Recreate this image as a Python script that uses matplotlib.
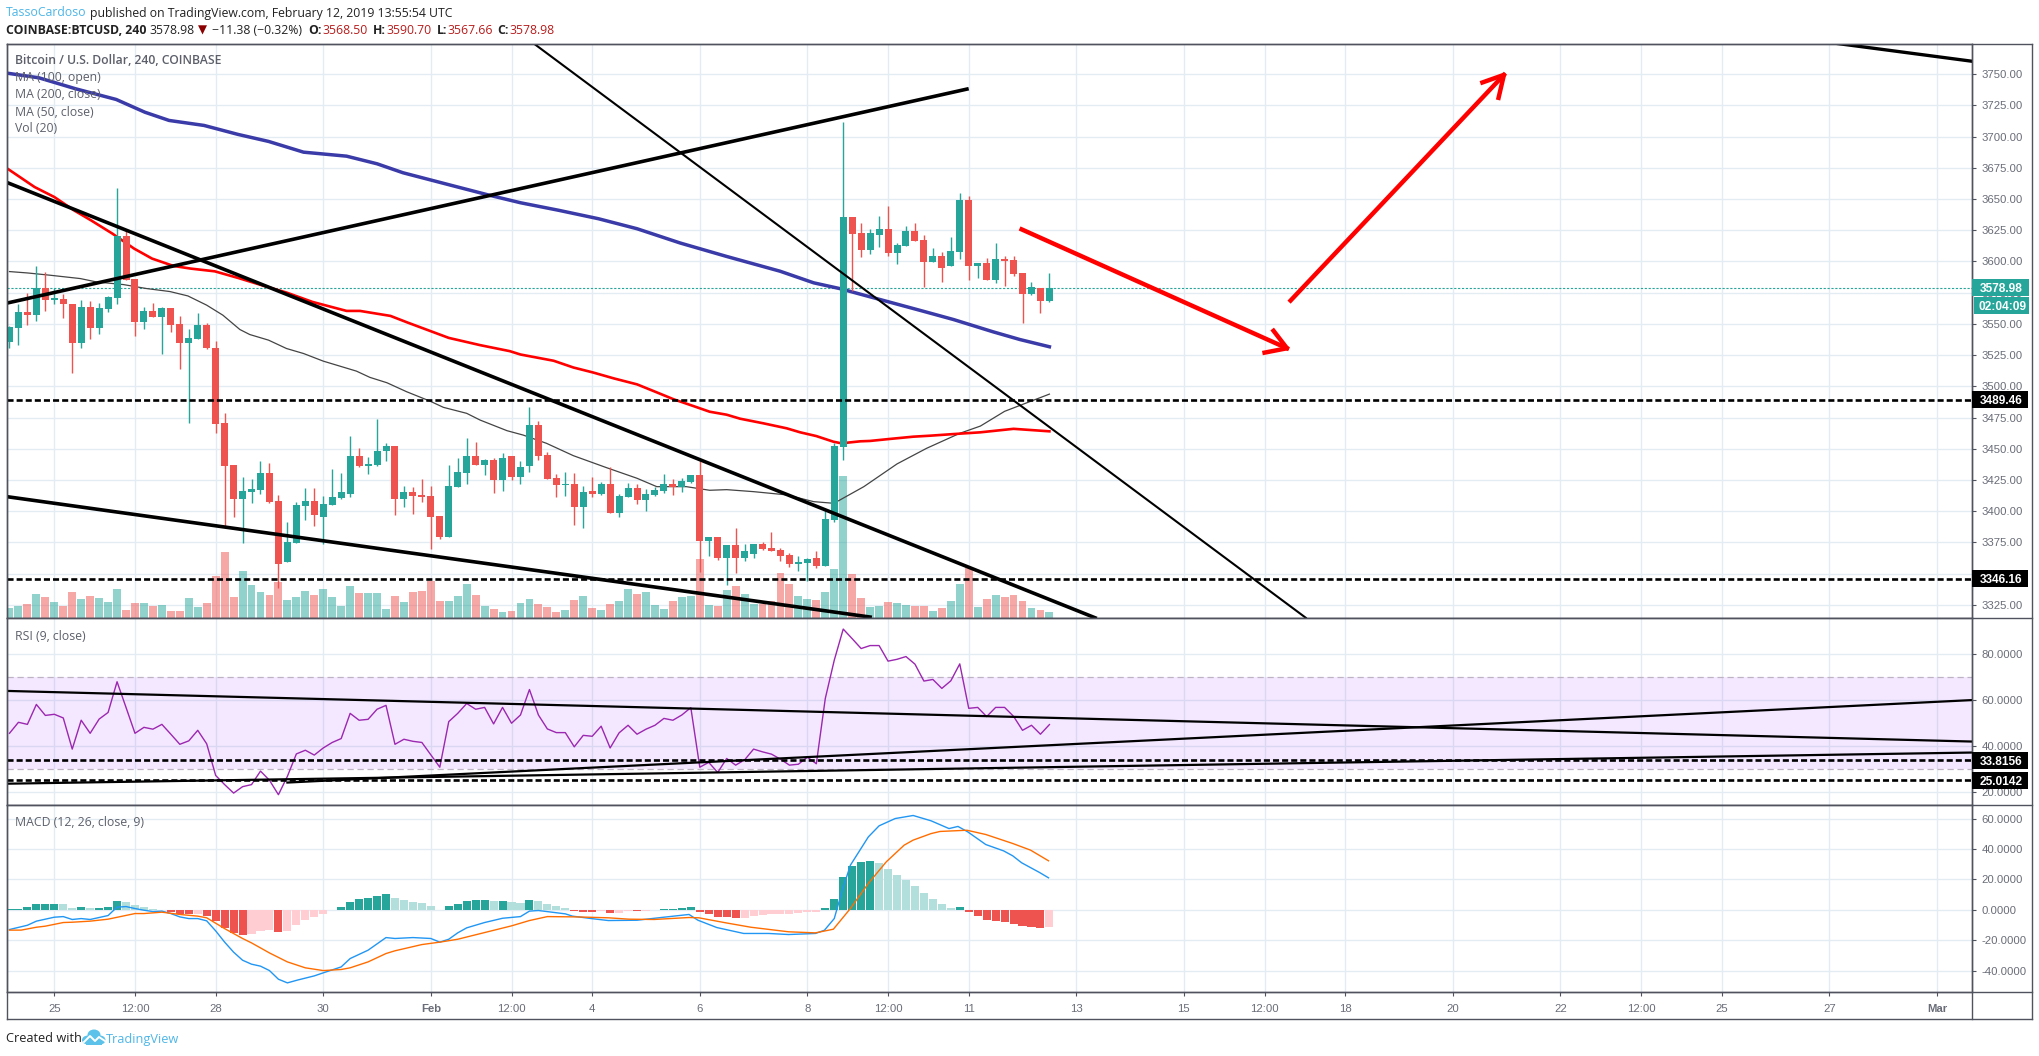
import numpy as np
import matplotlib
matplotlib.use('Agg')
from matplotlib import pyplot as plt
from matplotlib.lines import Line2D
from matplotlib.patches import Rectangle, Ellipse
from matplotlib.transforms import IdentityTransform

# 4h bars, 0 = Jan 25 00:00
bar_idx = np.arange(-5, 112)

opens = [3535.4,3546.6,3559.4,3557,3578.8,3569,3569.8,3565.8,3534.6,3563.4,
    3546.6,3561.8,3570.6,3620.1,3585.7,3551.4,3560.2,3555.4,3562.6,3549.8,
    3534.6,3537.8,3549,3531,3470.6,3437,3409.9,3415.5,3417,3430.7,
    3408.3,3359.5,3374.7,3404.3,3408.3,3395.5,3405.1,3410.7,3413.9,3444.3,
    3436.3,3437,3448.3,3452.3,3409.9,3415.5,3413.1,3412.3,3396.3,3379.5,
    3419.5,3430.7,3444.3,3437,3441.1,3425.1,3444.3,3427.5,3436.3,3469,
    3445.1,3426.7,3421.1,3421.9,3403.5,3416.3,3413.9,3421.9,3398.7,3411.5,
    3418.7,3409.1,3413.1,3416.3,3421.9,3419.5,3423.5,3429.1,3376.3,3379.5,
    3362.7,3373.1,3362.7,3365.9,3373.9,3370.7,3369.1,3365.1,3357.9,3358.7,
    3362.7,3356.3,3393.1,3451.7,3635.4,3622.6,3609,3621,3625.8,3606.6,
    3612.2,3624.2,3617,3599.4,3604.2,3596.2,3607.4,3648.9,3596.2,3598.6,
    3585,3601.8,3601,3590.6,3573.8,3578.6,3568.5]
highs = [3548,3566.3,3574.8,3596.2,3591.3,3579.1,3573.8,3566,3569,3568.2,
    3566.6,3572.2,3658.5,3624.1,3586,3563.4,3566.6,3563.4,3563,3556.2,
    3545.8,3558.6,3550.6,3536,3478.6,3437,3427.5,3425.9,3440.3,3438.7,
    3413.1,3391.5,3407.5,3418.7,3418.7,3412.3,3433.9,3430.7,3460.2,3450.7,
    3443.5,3473.8,3454.7,3452.3,3420.3,3419.5,3425.9,3420.3,3396.3,3437,
    3442.7,3458.6,3455.5,3441.9,3442.7,3446.7,3444.3,3440.3,3483.4,3472.2,
    3447.5,3429.9,3431.5,3430.7,3420.3,3427.5,3423.5,3435.5,3413.9,3422.7,
    3421.9,3417.9,3419.5,3429.9,3425.9,3426.7,3429.1,3440.3,3379.5,3379.5,
    3373.1,3386.7,3373.9,3373.9,3375.5,3383.5,3370.7,3366.7,3364.3,3362.7,
    3368.3,3400.3,3454.7,3711.3,3635.4,3630.6,3625.8,3636.1,3644.2,3614.6,
    3628.2,3630.6,3621,3610.6,3607.4,3619.4,3654.5,3652.1,3598.6,3602.6,
    3614.6,3604.2,3604.2,3590.6,3583.4,3578.6,3590.7]
lows = [3530.6,3533,3549,3552.2,3560.2,3565.8,3554.6,3510.8,3530.6,3537.8,
    3541.8,3559.4,3565.8,3584.9,3540.2,3545.8,3555.4,3525.8,3543.4,3513.8,
    3470.8,3537.8,3530,3463,3388.3,3395.5,3374.7,3406.7,3413.9,3406.7,
    3338.7,3359.5,3374.7,3393.1,3388.3,3373.9,3405.1,3409.9,3411.5,3435.5,
    3429.9,3436.3,3440.3,3397.1,3403.5,3397.9,3407.5,3369.9,3377.9,3379.5,
    3419.5,3421.9,3437,3429.1,3414.7,3416.3,3425.1,3421.9,3431.5,3441.1,
    3425.9,3411.5,3412.3,3389.1,3386.7,3411.5,3413.1,3398.7,3395.5,3411.5,
    3405.9,3400.3,3412.3,3414.7,3413.1,3415.5,3422.7,3351.5,3364.3,3361.1,
    3341.1,3350.7,3360.3,3362.7,3369.1,3368.3,3360.3,3355.5,3352.3,3344.3,
    3354.7,3356.3,3391.5,3441.1,3576.2,3603.4,3605.8,3611.4,3604.2,3597.8,
    3612.2,3616.2,3579.4,3599.4,3583.4,3596.2,3601.8,3585,3586.6,3585,
    3582.6,3580.2,3588.2,3550.6,3573,3558.6,3567.66]
closes = [3547.4,3559.4,3557,3579.1,3569,3570.6,3565.8,3534.6,3563.4,3546.6,
    3562.6,3571.4,3620.1,3584.9,3551.4,3560.2,3555.4,3562.6,3549,3534.6,
    3538.6,3549,3530.6,3470,3436.3,3409.9,3416.3,3417.9,3430.7,3407.5,
    3357.9,3375.5,3405.1,3408.3,3397.1,3405.9,3411.5,3415.5,3444.3,3436.3,
    3437.9,3448.3,3452.3,3409.9,3415.5,3412.3,3411.5,3395.5,3379.5,3420.3,
    3431.5,3444.3,3437,3441.1,3425.1,3442.7,3427.5,3435.5,3469,3444.3,
    3425.9,3421.1,3421.9,3403.5,3415.5,3413.9,3421.9,3398.7,3412.3,3418.7,
    3409.1,3413.9,3417.1,3421.9,3419.5,3424.3,3429.1,3376.3,3379.5,3362.7,
    3373.1,3362.7,3368.3,3373.9,3369.9,3368.3,3364.3,3357.9,3359.5,3361.9,
    3356.3,3393.9,3452.3,3635.4,3621.8,3609,3622.6,3625.8,3606.6,3613,
    3624.2,3616.2,3599.4,3604.2,3594.6,3608.2,3648.9,3596.2,3598.6,3585,
    3601.8,3600.2,3589.8,3573.8,3579.4,3568.2,3578.98]
volumes = [31,37,43,73,64,49,37,79,58,67,61,49,88,25,46,46,37,40,22,22,
    61,34,46,127,199,64,142,100,79,70,109,55,64,82,70,88,64,37,97,76,
    76,76,28,67,49,79,82,112,52,52,67,103,70,37,28,19,22,46,58,43,
    34,19,25,55,67,31,25,43,52,88,73,79,40,28,52,64,67,178,40,37,
    85,97,73,43,43,52,136,103,67,58,55,79,148,427,133,61,34,37,49,46,
    40,37,37,22,31,52,103,151,34,58,70,64,70,52,31,25,19]

ma100_x = [-5.2,-1.7,2.4,6.9,10.1,12.8,16.7,20.5,23.9,27.8,32.6,36,38.9,44.3,48.6,52,56.3,60.7,65,69.8,75,80.95,84.7,87.6,91.4,96.9,100.3,104.7,107.7,111]
ma100_y = [3750.7,3747,3738.2,3729.7,3719.5,3712.9,3708.9,3701.7,3696.1,3687.5,3684.3,3678.2,3671,3660.9,3652.9,3647,3640.9,3634.2,3626.2,3614.8,3604,3592.2,3582.9,3578.3,3570.9,3560.2,3553.5,3543.7,3537.5,3531.7]
ma200_x = [-5.1,-2.2,0,2.2,4.1,6.5,8.9,10.9,13.3,15.2,17.9,20.5,23.5,25.9,28.8,32.6,34.1,37.5,39.4,44,47.5,50.8,52,55.7,57.9,60.1,62.4,65,67.2,69.1,71.3,73.1,75,76.5,79.1,81.7,83.2,85,86.9,87.8,89.9,91,93.2,95.8,97.7,100.3,103.3,107,111]
ma200_y = [3673.7,3659.6,3651.6,3640.9,3632.9,3622.2,3610.3,3602.3,3596.4,3594.3,3592.1,3586.8,3580.2,3575.1,3567.6,3560.4,3560.4,3556.4,3551.1,3538.8,3533,3528.2,3525.5,3520.5,3515.1,3511.1,3506.4,3501.6,3495.2,3489.6,3484.2,3479.7,3477.3,3474.1,3470.4,3466.4,3463.2,3460.2,3455.7,3454.4,3456,3456.3,3457.9,3459.7,3460.5,3461.8,3463.2,3466,3464]
ma50_x = [-5,-3,-.5,2.9,4.7,7.7,10.3,12.9,14.9,17,18.8,20.7,21.8,23.9,25.9,27.8,30,33.7,35.2,37.1,39.3,41.9,43.4,46,47.5,50.5,52.3,54.9,57.9,61.6,65,67.2,70.5,73.1,75,78,81.7,84.7,86.9,87.5,90.3,94,97.3,101,103.3,106,111]
ma50_y = [3591.9,3590.8,3589,3586.3,3583.6,3581.5,3578.3,3575.9,3572.4,3565,3557,3545.5,3541.5,3537,3530.3,3526.3,3520.2,3512.2,3507.2,3502.9,3495.7,3488.2,3483.2,3478.4,3473,3464.5,3461,3454.4,3444.5,3434.9,3426.4,3419.7,3419.7,3416.8,3417.3,3415.7,3413.1,3407.7,3406.4,3408.5,3419.7,3437.9,3450.4,3462.4,3468.2,3480,3493.8]

rsi = [45.5,50.3,49.4,58.1,53.3,53.8,52.2,38.6,51.2,45.5,51.7,54.6,68,56.8,45.5,48.1,47.3,49.4,45.1,40.7,
    42.2,46.8,40.9,27.1,23.1,19.4,22.2,23.1,29,25,18.7,26.7,36.5,38.1,36,39.1,41.5,43.2,54.2,51.2,
    51.6,56,57.7,40.7,42.9,42,41.5,36.1,30.7,50.6,54.2,58.5,56,56.8,49.6,56.8,49.9,53.5,64.6,53.5,
    47.4,45.8,45.8,39.6,44.6,44.2,48.6,39.1,45.7,49,45.1,47.3,49,52,51.2,53.5,56.7,30.7,32.8,28.4,
    34.5,31.6,33.9,38.6,37.4,36.4,34.2,31.6,32,35.1,32.2,60.7,77.4,91,86.8,82.5,83.8,83.8,77,77.8,
    79,75.7,68.3,69,65.1,68.4,75.8,56.4,56.8,52.8,56.8,56.8,52.9,46.8,49,45.1,49.3]

macd_hist = [.4,.9,1.8,3.6,3.7,3.8,3.7,1.1,1.8,1.1,1.2,1.8,5.7,5,3.1,1.8,.3,.2,-1.1,-2.4,
    -2.8,-2.7,-3.7,-7.5,-12,-15.4,-16.7,-16,-14,-13.4,-14.7,-14,-10.1,-6.8,-4.8,-2.9,-.2,1.8,5,7,
    7.7,9,10.3,7.7,6.4,5,4.4,2.4,.2,2.4,3.7,5.7,6.3,6.4,5.7,5.8,5,4.4,6.4,5.7,
    3.7,2.4,1.1,-.9,-1.2,-1.3,-.9,-2.2,-2.1,-.9,-1,-.9,0,.3,.4,1.1,1.8,-1.3,-2.9,-4.7,
    -4.8,-5.5,-5.4,-4.2,-3.5,-3,-2.9,-2.8,-2.2,-1.6,-1.5,1.1,7,21.5,28.7,31.4,32,30.7,26.8,22.8,
    19.5,15.6,11,7,3.7,1.1,1.8,-1.5,-4.2,-6.8,-7.5,-8.1,-9.4,-10.7,-11.4,-12,-11.4]

macd_x = [-5,-3,-2,0,1,2,3,4,6,7,8,9,10,11,12,13,14,15,16,17,18,19,20,21,22,23,24,25,26,27.1,29,30,32,33,35,37,38,40,42,43,44,45,46,48,50,52,53,54,
    57,57.8,59.9,61.8,65,67.7,70.8,71.8,73.9,76.9,79.7,81.9,84.9,85.9,87,87.9,88.8,90.8,92,93.8,95.8,97.8,99.8,100.8,101.9,103.9,105.9,106.9,107.9,109.9,110.9]
macd_y = [-12.9,-10.1,-7.4,-4.8,-4.4,-6.3,-5.7,-6.3,-3.7,1.8,2.2,.9,-.2,-1.1,-.8,-2.4,-4.6,-5.7,-5.7,-7.2,-13.8,-21.2,-27.8,-33.1,-35.7,-37,-39.9,-45.6,-48,-46.2,-43.4,-41.4,-37.5,-32,-26.5,-18.2,-18.8,-18.2,-18.8,-21.2,-19.3,-15.1,-11.8,-8.3,-5.5,-4.4,-.8,-.4,
    -2.6,-4.1,-5.7,-7,-6.8,-5,-3,-6.8,-11.6,-15.5,-15.5,-16.2,-15.5,-13.4,-5.7,13,29.4,48,55.3,60.1,62.1,58.6,53.5,54.9,51.3,43,38.8,35.6,31,24.6,21.1]
signal_x = [-5,-3.7,-2,-1,1,2,4,6,9,10,12,14,16,17,19,21,22,24,26,28,30,32,33,35,37,38,41,43,45,48,51,53,55,
    58.2,61.8,64.1,66.9,70.8,71.9,74.9,77.7,81.9,84.9,86.9,88.8,90.8,92.8,94.8,95.8,97.8,98.8,101.8,103.9,106.9,108.9,110.9]
signal_y = [-13.3,-13.3,-11.4,-10.7,-8.3,-8.1,-7.4,-6.1,-2.4,-2.4,-1.5,-3,-4.1,-5.2,-12.3,-18.8,-21.7,-28.3,-34.2,-38.1,-39.9,-39.2,-38.1,-34.2,-28.7,-26.9,-22.8,-21.2,-19.3,-14.9,-10.5,-7,-4.4,
    -4.6,-5.2,-6.1,-6.3,-5,-5.2,-8.5,-11.4,-14.4,-15.1,-12.7,.9,17.4,31.6,42.6,45.9,50.2,51.6,52.4,49.6,43.7,39.3,32.3]

# hand drawn lines, (bar, price) at both ends
trend_main = [([-5.2,116.1],[3663,3314.7],2.6), ([-5.2,101.8],[3566.8,3738],2.6),
    ([53.5,139.6],[3774.4,3314.7],1.5), ([-5.3,91],[3411.7,3315.3],2.6), ([199,213.9],[3774.4,3760.3],2.4)]
trend_rsi = [([-5.3,213.9],[64,41.9]), ([26,213.9],[24,60]), ([-5.3,213.9],[23.5,37.1])]
arrow_down_x, arrow_down_y = [107.9,137.5], [3625.7,3530.5]
arrow_down_head_x, arrow_down_head_y = [135,137.5,136], [3527,3530.5,3544.5]
arrow_up_x, arrow_up_y = [137.9,161.7], [3568.7,3749.4]
arrow_up_head_x, arrow_up_head_y = [159.3,161.7,161.1], [3743.3,3749.4,3731]

price_levels = [3489.46, 3346.16]
rsi_levels = [33.8156, 25.0142]
last_price = 3578.98
timer_label = '02:04:09'

tick_bars = [0,9,18,30,42,51,60,72,84,93,102,114,126,135,144,156,168,177,186,198,210]
tick_labels = ['25','12:00','28','30','Feb','12:00','4','6','8','12:00','11','13','15','12:00','18','20','22','12:00','25','27','Mar']
price_ticks = np.arange(3325, 3751, 25)
rsi_ticks = [20, 40, 60, 80]
macd_ticks = [-40, -20, 0, 20, 40, 60]

W, H = 2040, 1056
GREEN, RED = '#26a69a', '#ef5350'
GRID = '#e3ecf2'
FRAME = '#50535e'
TXT = '#5d606b'
UI = 'Open Sans'
AX = 'Liberation Sans'
DASH = (0, (2.3, 1.15))

left, right, top = 6.7, 1972, 43.5
bot_main, bot_rsi, bot_macd, bot_all, far = 618.3, 805, 992, 1019, 2032
x0, bar_w = 54.3, 8.965
x_lim = ((left - x0) / bar_w, (right - x0) / bar_w)

fig = plt.figure(figsize=(W / 100, H / 100), dpi=100, facecolor='white')


def pane(y1, y2):
    a = fig.add_axes([left / W, 1 - y2 / H, (right - left) / W, (y2 - y1) / H])
    a.set_xlim(*x_lim)
    a.set_axisbelow(True)
    a.grid(True, color=GRID, lw=1.0)
    a.set_xticks(tick_bars)
    a.set_xticklabels([])
    a.tick_params(axis='x', length=0)
    a.yaxis.tick_right()
    a.tick_params(axis='y', length=3, width=0.8, color=FRAME, labelcolor='#6a6d78', labelsize=8.2, pad=4)
    for s in a.spines.values():
        s.set_color(FRAME)
        s.set_linewidth(1.0)
    return a


ax = pane(top, bot_main)
ax_rsi = pane(bot_main, bot_rsi)
ax_macd = pane(bot_rsi, bot_macd)

# main pane
ax.set_ylim(3314.3, 3774.5)
ax.set_yticks(price_ticks)
ax.set_yticklabels(['%.2f' % p for p in price_ticks], family=AX)
o, h, l, c = map(np.array, (opens, highs, lows, closes))
col = np.where(c >= o, GREEN, RED)
vol_unit = (1 / 3) / 1.2508   # one volume unit in price terms
ax.bar(bar_idx, np.array(volumes) * vol_unit, width=0.88, bottom=3314.3, color=col, alpha=0.5, lw=0, zorder=1)
ax.axhline(last_price, color=GREEN, lw=0.8, ls=(0, (2, 1.5)), zorder=1.5)
ax.plot(ma50_x, ma50_y, color='#444444', lw=0.9, zorder=2)
ax.plot(ma200_x, ma200_y, color='#ff0000', lw=1.9, zorder=2)
ax.plot(ma100_x, ma100_y, color='#3a3aa8', lw=2.5, zorder=2)
ax.vlines(bar_idx, l, h, colors=col, lw=1.0, zorder=3)
ax.bar(bar_idx, np.abs(c - o), width=0.78, bottom=np.minimum(o, c), color=col, lw=0, zorder=3)
for tx, ty, lw in trend_main:
    ax.plot(tx, ty, color='black', lw=lw, zorder=5)
for lv in price_levels:
    ax.axhline(lv, color='black', lw=1.9, ls=DASH, zorder=5)
ax.plot(arrow_down_x, arrow_down_y, color='#ff0000', lw=3.2, zorder=6)
ax.plot(arrow_down_head_x, arrow_down_head_y, color='#ff0000', lw=3.2, zorder=6)
ax.plot(arrow_up_x, arrow_up_y, color='#ff0000', lw=3.2, zorder=6)
ax.plot(arrow_up_head_x, arrow_up_head_y, color='#ff0000', lw=3.2, zorder=6)

# RSI pane
ax_rsi.set_ylim(14.2, 95.7)
ax_rsi.set_yticks(rsi_ticks)
ax_rsi.set_yticklabels(['%.4f' % v for v in rsi_ticks], family=AX)
ax_rsi.axhspan(30, 70, color='#9933ff', alpha=0.11, lw=0, zorder=1)
for lv in (30, 70):
    ax_rsi.axhline(lv, color='#bdb3c2', lw=0.9, ls=(0, (5, 3)), zorder=1.5)
ax_rsi.plot(bar_idx, rsi, color='#9c27b0', lw=1.0, zorder=3)
for tx, ty in trend_rsi:
    ax_rsi.plot(tx, ty, color='black', lw=1.6, zorder=5)
for lv in rsi_levels:
    ax_rsi.axhline(lv, color='black', lw=1.9, ls=DASH, zorder=5)

# MACD pane
ax_macd.set_ylim(-54, 69)
ax_macd.set_yticks(macd_ticks)
ax_macd.set_yticklabels(['%.4f' % v for v in macd_ticks], family=AX)
hist = np.array(macd_hist)
rising = np.r_[True, hist[1:] >= hist[:-1]]
hist_col = np.where(hist >= 0, np.where(rising, GREEN, '#b2dfdb'), np.where(rising, '#ffcdd2', RED))
ax_macd.bar(bar_idx, hist, width=0.9, color=hist_col, lw=0, zorder=2)
ax_macd.plot(macd_x, macd_y, color='#2196f3', lw=1.0, zorder=3)
ax_macd.plot(signal_x, signal_y, color='#ff6d00', lw=1.0, zorder=3)
ax_macd.set_xticklabels(tick_labels, family=AX)
ax_macd.tick_params(axis='x', length=3, width=0.8, color=FRAME, labelcolor='#6a6d78', labelsize=8.2, pad=6)
for t in ax_macd.get_xticklabels():
    if t.get_text() in ('Feb', 'Mar'):
        t.set_fontweight('bold')


def px_text(x, y, s, **kw):
    kw.setdefault('family', UI)
    kw.setdefault('fontsize', 8.8)
    kw.setdefault('va', 'center')
    kw.setdefault('color', '#222222')
    kw.setdefault('zorder', 9)
    return fig.text(x / W, 1 - y / H, s, **kw)


def px_line(xs, ys):
    fig.add_artist(Line2D([v / W for v in xs], [1 - v / H for v in ys], color=FRAME, lw=1.0, zorder=7))


# frame around the right scale and date strip
px_line([left, left], [top, bot_all])
px_line([right, right], [top, bot_all])
px_line([far, far], [top, bot_all])
for yy in (top, bot_main, bot_rsi, bot_macd, bot_all):
    px_line([left, far], [yy, yy])


def badge(a, value, label, color, x2=2029, x1=right, dy=0):
    # value goes through the pane's own scale, box is drawn in pixels
    yy = a.transData.transform((0, value))[1] + dy
    fig.add_artist(Rectangle((x1, yy - 8.5), x2 - x1, 17, transform=IdentityTransform(), color=color, lw=0, zorder=8))
    fig.text((x1 + x2) / 2 / W + 1 / W, yy / H, label, color='white', family=AX, fontsize=8.6, fontweight='bold',
             ha='center', va='center_baseline', zorder=9)


badge(ax, last_price, '%.2f' % last_price, GREEN)
badge(ax, last_price, timer_label, GREEN, x1=1974, dy=-18)
for lv in price_levels:
    badge(ax, lv, '%.2f' % lv, 'black', x2=2028)
for lv in rsi_levels:
    badge(ax_rsi, lv, '%.4f' % lv, 'black', x2=2028)

# header
px_text(6, 13, 'TassoCardoso', color='#4db6e8')
px_text(90, 13, 'published on TradingView.com, February 12, 2019 13:55:54 UTC')
px_text(6, 30, 'COINBASE:BTCUSD, 240', fontweight='bold')
px_text(149.5, 30, '3578.98')
px_text(198, 30, '\u25bc', family='DejaVu Sans', color='#8b0000', fontsize=8.5)
px_text(212, 30, '\u221211.38 (\u22120.32%)')
for xa, lab, xb, val in [(308, 'O:', 322, '3568.50'), (373, 'H:', 386, '3590.70'),
                         (437, 'L:', 447, '3567.66'), (497, 'C:', 509, '3578.98')]:
    px_text(xa, 30, lab, fontweight='bold')
    px_text(xb, 30, val, color='#b71c1c')

# pane legends
px_text(15, 61, 'Bitcoin / U.S. Dollar, 240, COINBASE', color=TXT, fontweight='semibold', zorder=1)
for yy, s in [(78, 'MA (100, open)'), (95, 'MA (200, close)'), (112, 'MA (50, close)'), (129, 'Vol (20)'),
              (636, 'RSI (9, close)'), (823, 'MACD (12, 26, close, 9)')]:
    px_text(15, yy, s, color=TXT, zorder=1)

# footer with a rough cloud logo
px_text(6, 1039, 'Created with', fontsize=9.2)
px_text(106, 1039, 'TradingView', color='#4db6e8', fontsize=9.2)
for ex, ey, ew, eh in [(88, 1040, 12, 9), (94, 1035, 13, 11), (100, 1040, 11, 9)]:
    fig.add_artist(Ellipse((ex / W, 1 - ey / H), ew / W, eh / H, transform=fig.transFigure, color='#5cc2ea', lw=0, zorder=8))
fig.add_artist(Rectangle((86 / W, 1 - 1044.5 / H), 16 / W, 4 / H, transform=fig.transFigure, color='#5cc2ea', lw=0, zorder=8))
fig.add_artist(Line2D([84 / W, 90 / W, 95 / W, 99 / W, 105 / W], [1 - v / H for v in (1042, 1036, 1041, 1037, 1041)],
                      color='white', lw=1.4, zorder=9))

fig.savefig('out.png', dpi=100, facecolor='white')
